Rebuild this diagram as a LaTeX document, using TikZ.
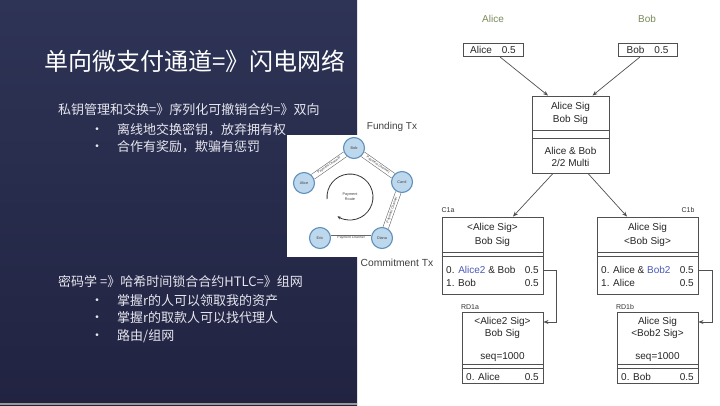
\documentclass[tikz,border=0pt]{standalone}
\usepackage{fontspec}
\setmainfont{Liberation Sans}
\newfontfamily\cjk{Noto Sans CJK SC}
\usetikzlibrary{arrows.meta,calc}
\definecolor{navytop}{HTML}{2E3456}
\definecolor{navybot}{HTML}{212341}
\definecolor{cjktext}{HTML}{E6E6EE}
\definecolor{boxline}{HTML}{505050}
\definecolor{namegreen}{HTML}{7A8A5A}
\definecolor{keyblue}{HTML}{4A5AB8}
\definecolor{nodefill}{HTML}{BDD7EC}
\definecolor{nodeline}{HTML}{5F91BC}
\begin{document}
\begin{tikzpicture}[x=1pt,y=-1pt,
 txbox/.style={draw=boxline, line width=0.9pt, fill=white, inner sep=0pt},
 lbl/.style={font=\fontsize{10}{12}\selectfont, inner sep=0pt, text=black!85},
 smalllbl/.style={font=\fontsize{7}{8}\selectfont, inner sep=0pt, text=black!80},
 cn/.style={font=\cjk\fontsize{13}{15}\selectfont, text=cjktext, inner sep=0pt, anchor=west},
 bul/.style={font=\fontsize{10}{12}\selectfont, text=cjktext, inner sep=0pt},
 arr/.style={draw=boxline, line width=0.7pt, -{Stealth[length=5pt,width=4pt]}},
 divider/.style={draw=boxline, line width=0.8pt},
 pnode/.style={circle, draw=nodeline, fill=nodefill, line width=1.1pt, minimum size=21pt, inner sep=0pt, font=\fontsize{3.8}{4}\selectfont, text=black!75},
 chan/.style={draw=black!60, line width=0.55pt, double=white, double distance=5pt},
 chantext/.style={sloped, inner sep=0pt, font=\fontsize{3.4}{4}\selectfont, text=black!75},
]
\useasboundingbox (0,0) rectangle (720,405);
\fill[white] (0,0) rectangle (720,405);
% dark panel
\shade[top color=navytop, bottom color=navybot] (0,0) rectangle (357,405);
\fill[black!40!white] (0,403) rectangle (357,405);

% title and text
\node[cn, font=\cjk\fontsize{24}{28}\selectfont, text=white] (title) at (44,61) {单向微支付通道=》闪电网络};
\node[cn] (h1) at (58,110) {私钥管理和交换=》序列化可撤销合约=》双向};
\node[bul] (b11) at (97,130) {•};
\node[cn] (t11) at (117,130) {离线地交换密钥，放弃拥有权};
\node[bul] (b12) at (97,147) {•};
\node[cn] (t12) at (117,147) {合作有奖励，欺骗有惩罚};
\node[cn] (h2) at (58,282) {密码学 =》哈希时间锁合合约HTLC=》组网};
\node[bul] (b21) at (97,301) {•};
\node[cn] (t21) at (117,301) {掌握r的人可以领取我的资产};
\node[bul] (b22) at (97,318) {•};
\node[cn] (t22) at (117,318) {掌握r的取款人可以找代理人};
\node[bul] (b23) at (97,336) {•};
\node[cn] (t23) at (117,336) {路由/组网};

% payment network inset
\fill[white] (287,135) rectangle (436,257);
\node[pnode] (pBob) at (354,148) {Bob};
\node[pnode] (pAlice) at (304,183) {Alice};
\node[pnode] (pCarol) at (402,182) {Carol};
\node[pnode] (pDiana) at (382,238) {Diana};
\node[pnode] (pEric) at (320,238) {Eric};
\draw[chan] (pAlice) -- node[chantext] {Payment Channel} (pBob);
\draw[chan] (pBob) -- node[chantext] {Payment Channel} (pCarol);
\draw[chan] (pCarol) -- node[chantext] {Payment Channel} (pDiana);
\draw[chan] (pEric) -- node[chantext] {Payment Channel} (pDiana);
\coordinate (routec) at (350,197);
\draw[black!80, line width=0.8pt, -{Stealth[length=3.5pt,width=3pt]}] ($(routec)+(175:23)$) arc[start angle=175, end angle=483, radius=23];
\node[align=center, inner sep=0pt, font=\fontsize{3.8}{4.6}\selectfont, text=black!75] (route) at (routec) {Payment\\Route};

% side labels
\node[lbl, font=\fontsize{10}{12}\selectfont, text=black!75] (ftx) at (392,127) {Funding Tx};
\node[lbl, font=\fontsize{10.3}{12}\selectfont, text=black!75] (ctx) at (397,263) {Commitment Tx};

% top owners
\node[lbl, text=namegreen] (alicelbl) at (493,19) {Alice};
\node[lbl, text=namegreen] (boblbl) at (647,19) {Bob};
\node[txbox, minimum width=60pt, minimum height=13pt] (abox) at (493,50) {};
\node[lbl] (aboxt) at (abox) {Alice\quad 0.5};
\node[txbox, minimum width=59pt, minimum height=13pt] (bbox) at (647.5,50) {};
\node[lbl] (bboxt) at (bbox) {Bob\quad 0.5};

% funding tx
\node[txbox, minimum width=77pt, minimum height=77pt] (fund) at (570.5,134.5) {};
\draw[divider] (fund.west |- 0,130) -- (fund.east |- 0,130);
\draw[divider] (fund.west |- 0,138) -- (fund.east |- 0,138);
\node[lbl] (f1) at (570.5,107) {Alice Sig};
\node[lbl] (f2) at (570.5,119.5) {Bob Sig};
\node[lbl] (f3) at (570.5,150.5) {Alice \& Bob};
\node[lbl] (f4) at (570.5,163) {2/2 Multi};

% C1a
\node[txbox, minimum width=101pt, minimum height=77pt] (c1a) at (492.5,255.5) {};
\draw[divider] (c1a.west |- 0,252) -- (c1a.east |- 0,252);
\draw[divider] (c1a.west |- 0,256) -- (c1a.east |- 0,256);
\node[smalllbl] (c1alab) at (448,210) {C1a};
\node[lbl] (c1a1) at (492.5,228) {<Alice Sig>};
\node[lbl] (c1a2) at (492.5,241.5) {Bob Sig};
\node[lbl, anchor=west] (c1a3) at (446,270) {0. \textcolor{keyblue}{Alice2} \& Bob};
\node[lbl, anchor=east] (c1a3v) at (539,270) {0.5};
\node[lbl, anchor=west] (c1a4) at (446,283) {1. Bob};
\node[lbl, anchor=east] (c1a4v) at (539,283) {0.5};

% C1b
\node[txbox, minimum width=101pt, minimum height=77pt] (c1b) at (647.5,255.5) {};
\draw[divider] (c1b.west |- 0,252) -- (c1b.east |- 0,252);
\draw[divider] (c1b.west |- 0,256) -- (c1b.east |- 0,256);
\node[smalllbl] (c1blab) at (688,210) {C1b};
\node[lbl] (c1b1) at (647.5,228) {Alice Sig};
\node[lbl] (c1b2) at (647.5,241.5) {<Bob Sig>};
\node[lbl, anchor=west] (c1b3) at (601,270) {0. Alice \& \textcolor{keyblue}{Bob2}};
\node[lbl, anchor=east] (c1b3v) at (694,270) {0.5};
\node[lbl, anchor=west] (c1b4) at (601,283) {1. Alice};
\node[lbl, anchor=east] (c1b4v) at (694,283) {0.5};

% RD1a
\node[txbox, minimum width=81pt, minimum height=71pt] (rd1a) at (502.5,347.5) {};
\draw[divider] (rd1a.west |- 0,364) -- (rd1a.east |- 0,364);
\draw[divider] (rd1a.west |- 0,368) -- (rd1a.east |- 0,368);
\node[smalllbl] (rd1alab) at (470,307) {RD1a};
\node[lbl] (rd1a1) at (502.5,322) {<Alice2 Sig>};
\node[lbl] (rd1a2) at (502.5,334) {Bob Sig};
\node[lbl] (rd1a3) at (502.5,357) {seq=1000};
\node[lbl, anchor=west] (rd1a4) at (466,377) {0. Alice};
\node[lbl, anchor=east] (rd1a4v) at (539,377) {0.5};

% RD1b
\node[txbox, minimum width=81pt, minimum height=71pt] (rd1b) at (657.5,347.5) {};
\draw[divider] (rd1b.west |- 0,364) -- (rd1b.east |- 0,364);
\draw[divider] (rd1b.west |- 0,368) -- (rd1b.east |- 0,368);
\node[smalllbl] (rd1blab) at (625,307) {RD1b};
\node[lbl] (rd1b1) at (657.5,322) {Alice Sig};
\node[lbl] (rd1b2) at (657.5,334) {<Bob2 Sig>};
\node[lbl] (rd1b3) at (657.5,357) {seq=1000};
\node[lbl, anchor=west] (rd1b4) at (621,377) {0. Bob};
\node[lbl, anchor=east] (rd1b4v) at (694,377) {0.5};

% connectors
\draw[arr] ([xshift=7pt]abox.south) -- ([xshift=-22.5pt]fund.north);
\draw[arr] ([xshift=-7.5pt]bbox.south) -- ([xshift=22pt]fund.north);
\draw[arr] ([xshift=-17.5pt]fund.south) -- ([xshift=20.5pt]c1a.north);
\draw[arr] ([xshift=17.5pt]fund.south) -- ([xshift=-20.5pt]c1b.north);
\draw[arr] (c1a.east |- c1a3v) -- ++(13,0) |- (rd1a.east |- rd1a1);
\draw[arr] (c1b.east |- c1b3v) -- ++(14,0) |- (rd1b.east |- rd1b1);
\end{tikzpicture}
\end{document}
